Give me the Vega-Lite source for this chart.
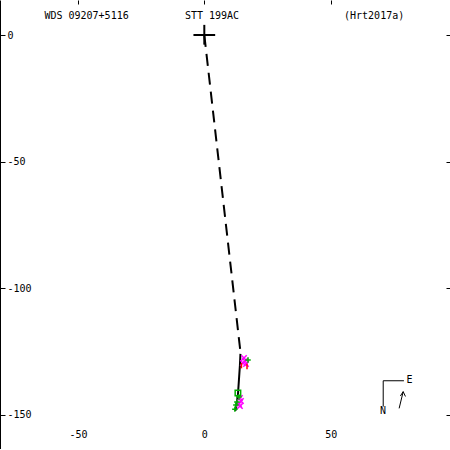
{
  "$schema": "https://vega.github.io/schema/vega-lite/v6.json",
  "width": 450,
  "height": 449,
  "autosize": "none",
  "padding": 0,
  "background": "white",
  "config": {
    "view": {"stroke": null},
    "axis": {
      "labelFont": "DejaVu Sans Mono",
      "labelFontSize": 10,
      "labelColor": "black",
      "tickColor": "black",
      "domainColor": "black",
      "grid": false,
      "title": null
    }
  },
  "datasets": {
    "dash": [{"x": 0, "y": 0, "o": 0}, {"x": 14.4, "y": -126.0, "o": 1}],
    "orbit": [
      {"x": 14.3, "y": -125.9, "o": 0},
      {"x": 14.1, "y": -130.3, "o": 1},
      {"x": 13.7, "y": -136.2, "o": 2},
      {"x": 13.3, "y": -142.1, "o": 3},
      {"x": 12.7, "y": -146.1, "o": 4},
      {"x": 12.3, "y": -148.4, "o": 5}
    ],
    "obs": [
      {"x": 15.7, "y": -127.5, "kind": "m"},
      {"x": 16.1, "y": -128.7, "kind": "m"},
      {"x": 15.3, "y": -129.5, "kind": "m"},
      {"x": 16.5, "y": -129.9, "kind": "m"},
      {"x": 14.1, "y": -143.3, "kind": "m"},
      {"x": 14.5, "y": -144.5, "kind": "m"},
      {"x": 13.7, "y": -145.7, "kind": "m"},
      {"x": 14.1, "y": -146.5, "kind": "m"},
      {"x": 14.7, "y": -130.5, "kind": "r"},
      {"x": 16.9, "y": -130.9, "kind": "r"},
      {"x": 17.3, "y": -128.3, "kind": "g"},
      {"x": 13.7, "y": -142.9, "kind": "g"},
      {"x": 12.9, "y": -144.9, "kind": "g"},
      {"x": 12.5, "y": -146.1, "kind": "g"},
      {"x": 12.1, "y": -147.7, "kind": "g"},
      {"x": 13.3, "y": -141.3, "kind": "s"}
    ],
    "cross": [
      {"x": -4.3, "y": 0, "x2": 4.3, "y2": 0},
      {"x": 0, "y": 4.0, "x2": 0, "y2": -3.8}
    ],
    "compass": [
      {"x": 70.8, "y": -136.5, "x2": 79.0, "y2": -136.5},
      {"x": 70.8, "y": -136.5, "x2": 70.8, "y2": -146.7},
      {"x": 77.1, "y": -147.4, "x2": 78.7, "y2": -140.8},
      {"x": 78.7, "y": -140.8, "x2": 77.6, "y2": -142.5},
      {"x": 78.7, "y": -140.8, "x2": 79.6, "y2": -142.7}
    ],
    "texts": [
      {"x": -46.6, "y": 7.5, "label": "WDS 09207+5116"},
      {"x": 3.05, "y": 7.5, "label": "STT 199AC"},
      {"x": 67.2, "y": 7.5, "label": "(Hrt2017a)"},
      {"x": 70.7, "y": -148.4, "label": "N"},
      {"x": 81.2, "y": -136.2, "label": "E"}
    ]
  },
  "resolve": {"axis": {"x": "independent", "y": "independent"}},
  "layer": [
    {
      "data": {"name": "dash"},
      "mark": {"type": "line", "color": "black", "strokeWidth": 2, "strokeDash": [12, 7]},
      "encoding": {
        "x": {"field": "x", "type": "quantitative",
              "scale": {"domain": [-80.85, 97.23], "nice": false, "zero": false},
              "axis": {"orient": "bottom", "values": [-50, 0, 50], "ticks": false, "domain": true,
                       "labelPadding": -15, "labelBaseline": "middle",
                       "labelExpr": "replace(datum.label, '\u2212', '-')"}},
        "y": {"field": "y", "type": "quantitative",
              "scale": {"domain": [-163.44, 13.82], "nice": false, "zero": false},
              "axis": {"orient": "left", "values": [0, -50, -100, -150], "tickSize": -5, "labelPadding": -2,
                       "labelAlign": "left", "domain": true,
                       "labelExpr": "replace(datum.label, '\u2212', '-')"}},
        "order": {"field": "o"}
      }
    },
    {
      "data": {"name": "orbit"},
      "mark": {"type": "line", "color": "black", "strokeWidth": 2},
      "encoding": {
        "x": {"field": "x", "type": "quantitative",
              "axis": {"orient": "top", "values": [-50, 0, 50], "tickSize": -4, "labels": false, "domain": false}},
        "y": {"field": "y", "type": "quantitative",
              "axis": {"orient": "right", "values": [0, -50, -100, -150], "tickSize": -4, "labels": false, "domain": false}},
        "order": {"field": "o"}
      }
    },
    {
      "data": {"name": "obs"},
      "mark": {"type": "point", "filled": false, "strokeWidth": 1.5, "size": 30, "opacity": 1},
      "encoding": {
        "x": {"field": "x", "type": "quantitative", "axis": null},
        "y": {"field": "y", "type": "quantitative", "axis": null},
        "shape": {"field": "kind", "type": "nominal", "legend": null,
                  "scale": {"domain": ["m", "r", "g", "s"],
                            "range": ["M-1,-1L1,1M-1,1L1,-1", "M0,-1V1", "M-1,0H1M0,-1V1", "square"]}},
        "color": {"field": "kind", "type": "nominal", "legend": null,
                  "scale": {"domain": ["m", "r", "g", "s"],
                            "range": ["#ff00ff", "#ff0000", "#00b000", "#00b000"]}}
      }
    },
    {
      "data": {"name": "cross"},
      "mark": {"type": "rule", "color": "black", "strokeWidth": 2},
      "encoding": {
        "x": {"field": "x", "type": "quantitative", "axis": null},
        "y": {"field": "y", "type": "quantitative", "axis": null},
        "x2": {"field": "x2"},
        "y2": {"field": "y2"}
      }
    },
    {
      "data": {"name": "compass"},
      "mark": {"type": "rule", "color": "black", "strokeWidth": 1},
      "encoding": {
        "x": {"field": "x", "type": "quantitative", "axis": null},
        "y": {"field": "y", "type": "quantitative", "axis": null},
        "x2": {"field": "x2"},
        "y2": {"field": "y2"}
      }
    },
    {
      "data": {"name": "texts"},
      "mark": {"type": "text", "font": "DejaVu Sans Mono", "fontSize": 10, "color": "black",
               "align": "center", "baseline": "middle"},
      "encoding": {
        "x": {"field": "x", "type": "quantitative", "axis": null},
        "y": {"field": "y", "type": "quantitative", "axis": null},
        "text": {"field": "label"}
      }
    }
  ]
}
